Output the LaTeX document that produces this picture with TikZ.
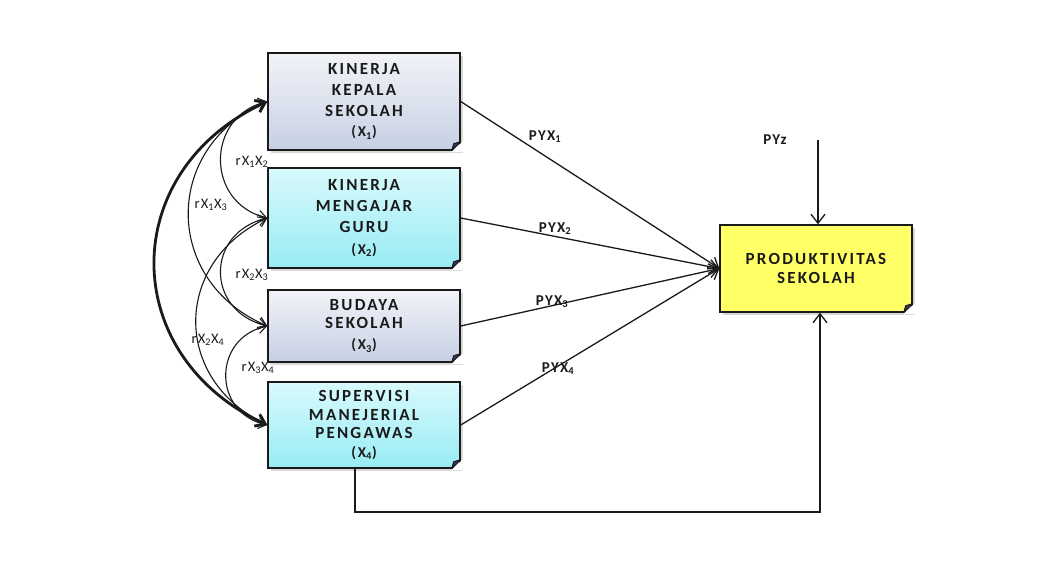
\documentclass[tikz,border=0pt]{standalone}
\usepackage{fontspec}
\setmainfont{Carlito}
\newfontfamily\boxfont[LetterSpace=13]{Carlito}
\newfontfamily\labfont[LetterSpace=8]{Carlito}
\usetikzlibrary{arrows.meta,shadows,calc}
\definecolor{ink}{HTML}{1A1A1A}
\definecolor{greytop}{HTML}{F2F3F8}
\definecolor{greybot}{HTML}{C6D0E4}
\definecolor{cyantop}{HTML}{D8FAFD}
\definecolor{cyanbot}{HTML}{98ECF4}
\definecolor{yel}{HTML}{FFFF66}
\newcommand\foldcorner[1]{%
  \fill[white] ($(#1.south east)+(-10,-1.5)$) -- ($(#1.south east)+(3,-1.5)$) -- ($(#1.south east)+(3,10)$) -- cycle;
  \filldraw[fill=gray!70!blue!60!black, draw=ink, line width=1pt, line join=round]
    ($(#1.south east)+(-9,0)$) -- ($(#1.south east)+(0,9)$) -- ($(#1.south east)+(-7,7)$) -- cycle;}
\newcommand\xl[1]{{\fontsize{15}{15}\selectfont (X\textsubscript{#1})}}
\begin{document}
\begin{tikzpicture}[x=1pt,y=1pt,
  box/.style={draw=ink, line width=1.4pt, minimum width=192pt, inner sep=0pt, align=center,
    font=\boxfont\bfseries\fontsize{17}{21}\selectfont, text=ink,
    drop shadow={shadow xshift=3pt,shadow yshift=-3pt,opacity=0.3}},
  greybox/.style={box, top color=greytop, bottom color=greybot},
  cyanbox/.style={box, top color=cyantop, bottom color=cyanbot},
  yelbox/.style={box, fill=yel},
  arr/.style={draw=ink, line width=1.3pt, -{Straight Barb[length=9pt,width=14pt]}},
  corr/.style={draw=ink, line width=1.1pt, {Straight Barb[length=8pt,width=11pt]}-{Straight Barb[length=8pt,width=11pt]}},
  thickcorr/.style={draw=ink, line width=2.8pt, {Straight Barb[length=9pt,width=13pt]}-{Straight Barb[length=9pt,width=13pt]}},
  lab/.style={font=\labfont\bfseries\fontsize{15}{15}\selectfont, text=ink, inner sep=1pt},
  rlab/.style={font=\labfont\fontsize{14.5}{14.5}\selectfont, text=ink, inner sep=1pt}]
\useasboundingbox (0,0) rectangle (1046,575);
\fill[white] (0,0) rectangle (1046,575);

\node[greybox, minimum height=97pt] (x1) at (364,473.5)
  {KINERJA\\KEPALA\\SEKOLAH\\[-1pt]\xl{1}};
\node[cyanbox, minimum height=100pt] (x2) at (364,357)
  {KINERJA\\MENGAJAR\\GURU\\[1pt]\xl{2}};
\node[greybox, minimum height=72pt, font=\boxfont\bfseries\fontsize{17}{18}\selectfont] (x3) at (364,249)
  {BUDAYA\\SEKOLAH\\[3pt]\xl{3}};
\node[cyanbox, minimum height=86pt, font=\boxfont\bfseries\fontsize{17}{18.5}\selectfont] (x4) at (364,150)
  {SUPERVISI\\MANEJERIAL\\PENGAWAS\\\xl{4}};
\node[yelbox, minimum height=87pt, font=\boxfont\bfseries\fontsize{17}{19}\selectfont] (y) at (816,306.5)
  {PRODUKTIVITAS\\SEKOLAH};
\foldcorner{x1}
\foldcorner{x2}
\foldcorner{x3}
\foldcorner{x4}
\foldcorner{y}

% paths to Y
\draw[arr] (x1.east) -- (y.west);
\draw[arr] (x2.east) -- (y.west);
\draw[arr] (x3.east) -- (y.west);
\draw[arr] (x4.east) -- (y.west);
\node[lab] (p1) at (545,438) {PYX\textsubscript{1}};
\node[lab] (p2) at (555,346) {PYX\textsubscript{2}};
\node[lab] (p3) at (552,273) {PYX\textsubscript{3}};
\node[lab] (p4) at (558,206) {PYX\textsubscript{4}};

% error term
\coordinate (etop) at (818,435);
\node[lab] (pe) at (775,435) {PYz};
\draw[arr] (etop) -- (etop |- y.north);

% X4 to Y
\coordinate (bl) at (355,63);
\coordinate (br) at (820,63);
\draw[arr] (x4.south -| bl) -- (bl) -- (br) -- (y.south -| br);

% correlations
\draw[thickcorr] (x1.west) .. controls +(-150,-70) and +(-150,70) .. (x4.west);
\draw[corr] (x1.west) .. controls +(-62,-15) and +(-62,15) .. (x2.west);
\draw[corr] (x1.west) .. controls +(-105,-45) and +(-105,45) .. (x3.west);
\draw[corr] (x2.west) .. controls +(-62,-15) and +(-62,15) .. (x3.west);
\draw[corr] (x2.west) .. controls +(-95,-45) and +(-95,45) .. (x4.west);
\draw[corr] (x3.west) .. controls +(-55,-12) and +(-55,12) .. (x4.west);
\node[rlab] (r12) at (252,413) {rX\textsubscript{1}X\textsubscript{2}};
\node[rlab] (r13) at (211,370) {rX\textsubscript{1}X\textsubscript{3}};
\node[rlab] (r23) at (252,300) {rX\textsubscript{2}X\textsubscript{3}};
\node[rlab] (r24) at (208,235) {rX\textsubscript{2}X\textsubscript{4}};
\node[rlab] (r34) at (258,207) {rX\textsubscript{3}X\textsubscript{4}};
\end{tikzpicture}
\end{document}
